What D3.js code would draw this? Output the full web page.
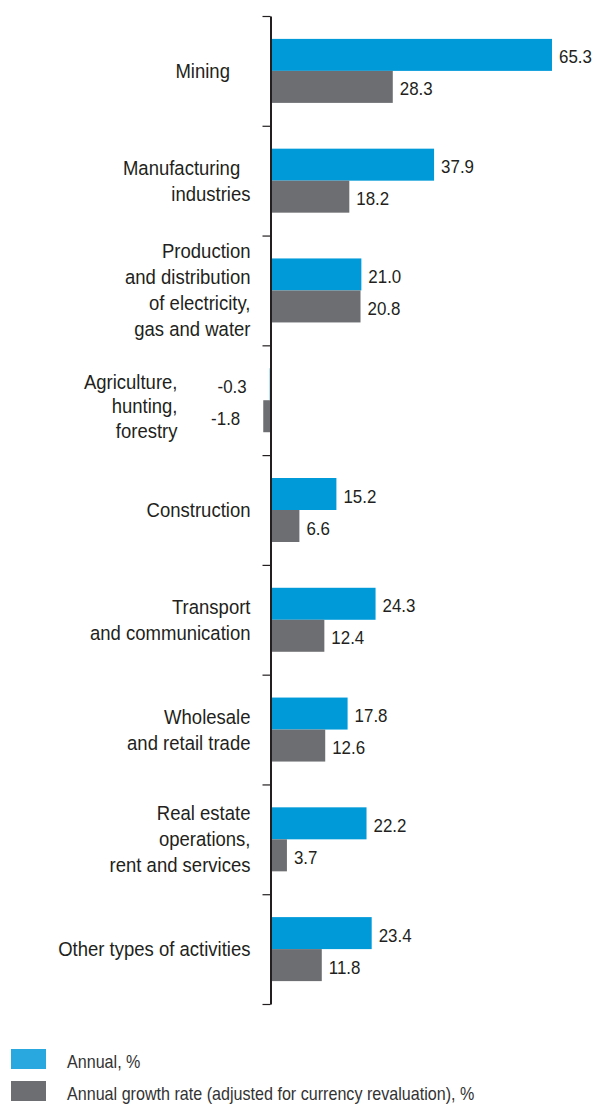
<!DOCTYPE html>
<html>
<head>
<meta charset="utf-8">
<script src="https://cdn.jsdelivr.net/npm/d3@7"></script>
<style>
  html, body { margin: 0; padding: 0; background: #fff; }
  svg { display: block; }
  text { font-family: "Liberation Sans", Arial, sans-serif; fill: #231f20; }
</style>
</head>
<body>
<svg id="chart" width="597" height="1104"></svg>
<script>
// Sectors (each label split into its printed lines)
const categories = [
  ["Mining\u00a0\u00a0\u00a0\u00a0"],
  ["Manufacturing\u00a0\u00a0", "industries"],
  ["Production", "and distribution", "of electricity,", "gas and water"],
  ["Agriculture,", "hunting,", "forestry"],
  ["Construction"],
  ["Transport", "and communication"],
  ["Wholesale", "and retail trade"],
  ["Real estate", "operations,", "rent and services"],
  ["Other types of activities"]
];
const annual = [65.3, 37.9, 21.0, -0.3, 15.2, 24.3, 17.8, 22.2, 23.4];
const growthAdjusted = [28.3, 18.2, 20.8, -1.8, 6.6, 12.4, 12.6, 3.7, 11.8];
const seriesNames = ["Annual, %", "Annual growth rate (adjusted for currency revaluation), %"];
const barColors = ["#009ad9", "#6d6e71"];
const legendColors = ["#29a8e0", "#6d6e71"];

const svg = d3.select("#chart");
const axisX = 270.5;
const plotTop = 16, plotBottom = 1004;

const x = d3.scaleLinear().domain([0, 70]).range([axisX + 0.5, axisX + 0.5 + 70 * 4.303]);
const y = d3.scaleBand().domain(d3.range(categories.length)).range([plotTop, plotBottom]).paddingInner(0).paddingOuter(0);
const barH = 32;
const sub = d3.scaleBand().domain([0, 1]).range([0, barH * 2]);

const rows = categories.map((c, i) => ({
  i, lines: c, values: [annual[i], growthAdjusted[i]]
}));

// narrow type: regular sans squeezed horizontally
function narrowText(parent, tx, ty, size, squeeze, anchor) {
  return parent.append("text")
    .attr("transform", `translate(${tx},${ty}) scale(${squeeze},1)`)
    .attr("text-anchor", anchor)
    .style("font-size", size + "px");
}

// Bars and their value labels
const g = svg.append("g");
rows.forEach(r => {
  const y0 = y(r.i) + (y.bandwidth() - barH * 2) / 2;
  r.values.forEach((v, s) => {
    const x0 = x(Math.min(0, v)), x1 = x(Math.max(0, v));
    g.append("rect")
      .attr("x", x0).attr("y", y0 + sub(s))
      .attr("width", Math.max(0, x1 - x0)).attr("height", sub.bandwidth())
      .attr("fill", barColors[s]);
    const cy = y0 + sub(s) + sub.bandwidth() / 2;
    narrowText(g, v >= 0 ? x(v) + 7 : x(v) - 23, cy + 8.5, 18, 0.94, v >= 0 ? "start" : "end")
      .text(v.toFixed(1));
  });
});

// Vertical axis with ticks at the sector boundaries
const edge = d3.scaleLinear().domain([0, categories.length]).range([plotTop, plotBottom]);
const axis = svg.append("g")
  .attr("transform", `translate(${axisX},0)`)
  .call(d3.axisLeft(edge).tickValues(d3.range(categories.length + 1)).tickSize(8).tickSizeOuter(0).tickFormat(""));
axis.select(".domain").attr("stroke", "#231f20").attr("stroke-width", 2);
axis.selectAll(".tick line").attr("stroke", "#231f20").attr("stroke-width", 1.2);

// Category labels, right aligned next to the axis
const lineH = 26, cap = 14;
rows.forEach(r => {
  const hasNeg = r.values.some(v => v < 0);
  const ax = hasNeg ? axisX - 93 : axisX - 20;
  const cy = y(r.i) + y.bandwidth() / 2 + (hasNeg ? 6 : 0);
  const n = r.lines.length;
  const lh = hasNeg ? 24.5 : lineH;
  const firstBase = cy - ((n - 1) * lh + cap) / 2 + cap;
  const t = narrowText(svg, ax, firstBase, 19.5, 0.95, "end");
  r.lines.forEach((ln, k) => {
    t.append("tspan").attr("x", 0).attr("y", k * lh).text(ln);
  });
});

// Legend
const legend = svg.append("g");
seriesNames.forEach((name, s) => {
  const ly = 1049 + s * 32;
  legend.append("rect").attr("x", 11).attr("y", ly).attr("width", 35).attr("height", 20).attr("fill", legendColors[s]);
  narrowText(legend, 67, ly + 19, 18, 0.895, "start").style("fill", "#333").text(name);
});
</script>
</body>
</html>
